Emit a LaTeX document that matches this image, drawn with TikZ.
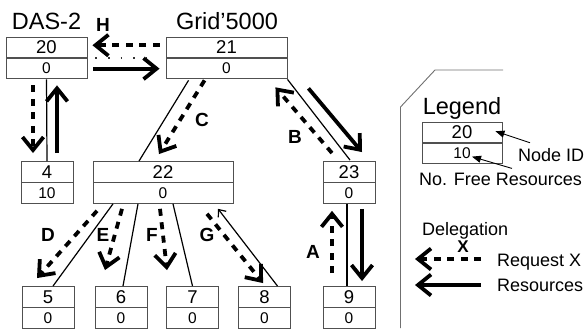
\documentclass[tikz,border=0pt]{standalone}
\usepackage{fontspec}
\setmainfont{Liberation Sans}
\usetikzlibrary{positioning,calc,arrows.meta}
\definecolor{boxgray}{HTML}{505050}
\definecolor{framegray}{HTML}{707070}
\begin{document}
\begin{tikzpicture}[x=1pt,y=-1pt,
      idbox/.style={rectangle,draw=boxgray,line width=0.9pt,inner sep=0pt,
                  minimum height=20.5pt,font=\fontsize{18.5}{18}\selectfont},
      freebox/.style={rectangle,draw=boxgray,line width=0.9pt,inner sep=0pt,
                  minimum height=20.5pt,font=\fontsize{15.5}{15}\selectfont},
      title/.style={inner sep=0pt,anchor=base,font=\fontsize{23.5}{24}\selectfont},
      tag/.style={inner sep=0pt,font=\bfseries\fontsize{19}{19}\selectfont},
      note/.style={inner sep=0pt,anchor=base west,font=\fontsize{18}{18}\selectfont},
      link/.style={line width=1.2pt},
      req/.style={line width=3.8pt,dash pattern=on 7pt off 6.5pt,
                  -{Straight Barb[length=13pt,width=21pt]}},
      res/.style={line width=3.8pt,-{Straight Barb[length=13pt,width=21pt]}},
      pointer/.style={line width=0.9pt,-{Triangle[length=9pt,width=7pt]}}]
    \useasboundingbox (0,0) rectangle (585,329);
    %% ── Sites ────────────────────────────────────────────────
    \node[title] (das)  at (46.5,30)  {DAS-2};
    \node[title] (g5k)  at (227,30)   {Grid'5000};
    %% ── Row 1 ────────────────────────────────────────────────
    \node[idbox,minimum width=81pt]  (n20) at (46.5,47.25) {20};
    \node[freebox,minimum width=81pt,below=0pt of n20] (n20f) {0};
    \node[idbox,minimum width=121pt] (n21) at (226.5,47.25) {21};
    \node[freebox,minimum width=121pt,below=0pt of n21] (n21f) {0};
    %% ── Row 2 ────────────────────────────────────────────────
    \node[idbox,minimum width=52pt]  (n4)  at (47,171.75)  {4};
    \node[freebox,minimum width=52pt,below=0pt of n4]  (n4f)  {10};
    \node[idbox,minimum width=140pt] (n22) at (163,171.75) {22};
    \node[freebox,minimum width=140pt,below=0pt of n22] (n22f) {0};
    \node[idbox,minimum width=52pt]  (n23) at (349,171.75) {23};
    \node[freebox,minimum width=52pt,below=0pt of n23] (n23f) {0};
    %% ── Row 3 ────────────────────────────────────────────────
    \node[idbox,minimum width=52pt] (n5) at (48,296.75)    {5};
    \node[freebox,minimum width=52pt,below=0pt of n5] (n5f) {0};
    \node[idbox,minimum width=52pt] (n6) at (121,296.75)   {6};
    \node[freebox,minimum width=52pt,below=0pt of n6] (n6f) {0};
    \node[idbox,minimum width=52pt] (n7) at (192.5,296.75) {7};
    \node[freebox,minimum width=52pt,below=0pt of n7] (n7f) {0};
    \node[idbox,minimum width=52pt] (n8) at (264.5,296.75) {8};
    \node[freebox,minimum width=52pt,below=0pt of n8] (n8f) {0};
    \node[idbox,minimum width=52pt] (n9) at (349,296.75)   {9};
    \node[freebox,minimum width=52pt,below=0pt of n9] (n9f) {0};
    %% ── Tree links ───────────────────────────────────────────
    \draw[link] (n20f.south) -- (n4.north);
    \draw[link] ($(n21f.south west)+(23,1)$) -- ($(n22.north)+(-24,0)$);
    \draw[link] (n21f.south east) -- ($(n23.north)+(1,-1)$);
    \draw[link] ($(n22f.south)+(-50,0)$) -- ($(n5.north)+(5,0)$);
    \draw[link] ($(n22f.south)+(-25,0)$) -- ($(n6.north)+(2,0)$);
    \draw[link] ($(n22f.south)+(10,0)$) -- (n7.north);
    \draw[link,-{Straight Barb[length=6pt,width=10pt]}]
      ($(n8.north)+(13,0)$) -- ($(n22f.south)+(55,5)$);
    \draw[link] ($(n23f.south)+(-2,0)$) -- ($(n9.north)+(-2,0)$);
    \draw[line width=1.6pt,black!80,dash pattern=on 1.6pt off 11pt]
      ($(n20.south east)+(8,0)$) -- ($(n21.south west)+(-9,0)$);
    %% ── Requests (dashed) ────────────────────────────────────
    \draw[req] ($(n9.north)+(-17,-13)$) -- ($(n23f.south)+(-17,7)$);
    \draw[req] ($(n23.north)+(-17,-8)$) -- ($(n21f.south east)+(-12,8)$);
    \draw[req] ($(n21f.south west)+(39,1)$) -- ($(n22.north)+(-4,-7)$);
    \draw[req] ($(n22f.south)+(-66,7)$) -- ($(n5.north)+(-11,-8)$);
    \draw[req] ($(n22f.south)+(-41,5)$) -- ($(n6.north)+(-16,-16)$);
    \draw[req] ($(n22f.south)+(-3,5)$) -- ($(n7.north)+(-25.5,-16)$);
    \draw[req] ($(n22f.south)+(44,10)$) -- ($(n8.north)+(-1.5,-3)$);
    \draw[req] ($(n21.west)+(-6,-2)$) -- ($(n20.east)+(5,-2)$);
    \draw[req] ($(n20f.south)+(-13.5,6)$) -- ($(n4.north)+(-14,-8)$);
    %% ── Resources (solid) ────────────────────────────────────
    \draw[res] ($(n23f.south)+(13,5)$) -- ($(n9.north)+(13,-5)$);
    \draw[res] ($(n21f.south east)+(21,9)$) -- ($(n23.north)+(13,-9)$);
    \draw[res] ($(n20f.east)+(6,0)$) -- ($(n21f.west)+(-6,0)$);
    \draw[res] ($(n4.north)+(10,-8)$) -- ($(n20f.south)+(10.5,6)$);
    %% ── Letters ──────────────────────────────────────────────
    \node[tag] (la) at (313,252) {A};
    \node[tag] (lb) at (295,137) {B};
    \node[tag] (lc) at (202,120) {C};
    \node[tag] (ld) at (48,235)  {D};
    \node[tag] (le) at (103,235) {E};
    \node[tag] (lf) at (152,235) {F};
    \node[tag] (lg) at (207,235) {G};
    \node[tag] (lh) at (103,25)  {H};
    %% ── Legend ───────────────────────────────────────────────
    \draw[framegray,line width=0.9pt] (400.5,328) -- (400.5,107) -- (435,70) -- (503,70);
    \node[title] (legend) at (462,114) {Legend};
    \node[idbox,minimum width=80pt] (lgid) at (462,132.25) {20};
    \node[freebox,minimum width=80pt,below=0pt of lgid] (lgfree) {10};
    \node[note] (nodeid) at (518,161) {Node ID};
    \node[note] (nofree) at (419,185) {No. Free Resources};
    \draw[pointer] ($(nodeid.north west)+(12,-5)$) -- ($(lgid.east)+(-7,-1)$);
    \node[note] (deleg) at (422,235) {Delegation};
    \node[tag,font=\bfseries\fontsize{17}{17}\selectfont] (lx) at (463,247) {X};
    \node[note] (reqx) at (497,266)  {Request X};
    \node[note] (resx) at (497,291)  {Resources};
    \coordinate (rqa) at (481,259);
    \coordinate (rqb) at (415,259);
    \coordinate (rsa) at (481,285);
    \coordinate (rsb) at (415,285);
    \draw[pointer] ($(nofree.north west)+(93,-4)$) -- ($(lgfree.center)+(10,3)$);
    \draw[req] (rqa) -- (rqb);
    \draw[res] (rsa) -- (rsb);
  \end{tikzpicture}
\end{document}
